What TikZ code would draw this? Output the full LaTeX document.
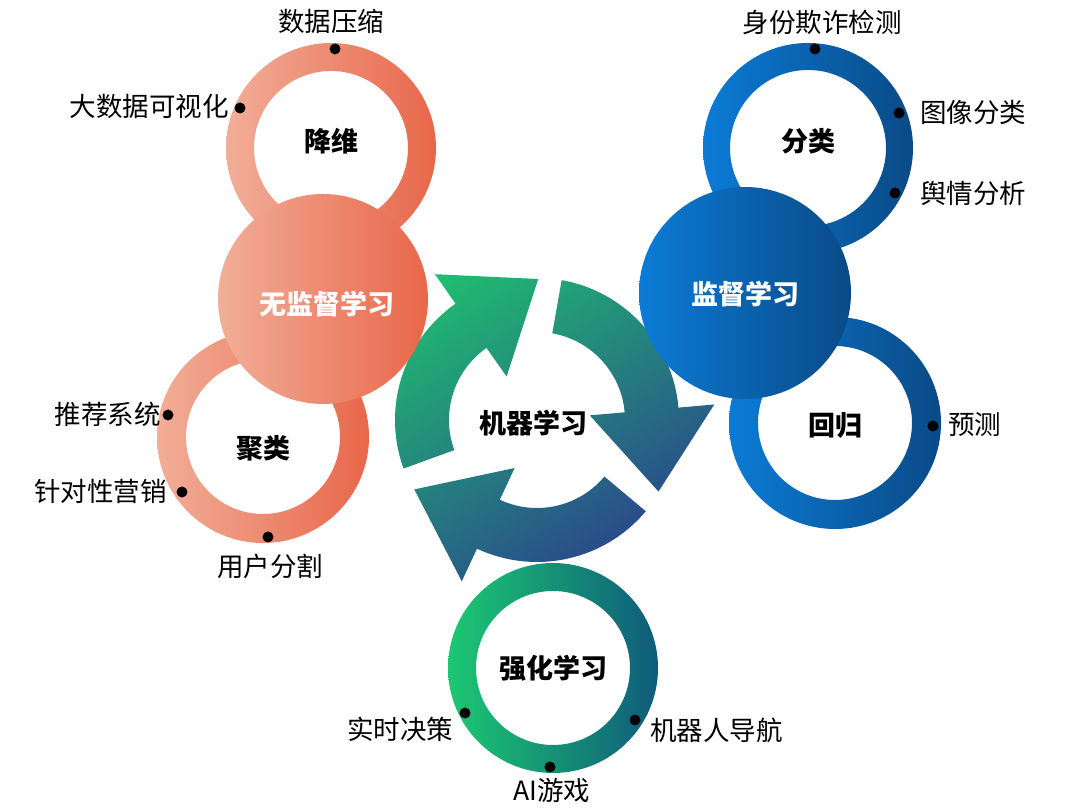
\documentclass[tikz,border=0pt]{standalone}
\usepackage{fontspec}
\newfontfamily\cjk{Noto Sans CJK SC}
\definecolor{orgL}{HTML}{F2AE98}
\definecolor{orgR}{HTML}{E8674A}
\definecolor{bluL}{HTML}{0B7BD6}
\definecolor{bluR}{HTML}{0A4A86}
\definecolor{grnL}{HTML}{1CC872}
\definecolor{grnR}{HTML}{0F5B7A}
\definecolor{cycG}{HTML}{1FC26E}
\definecolor{cycB}{HTML}{2B3C8E}
\begin{document}
\begin{tikzpicture}[
    x=1pt, y=1pt,
    ring/.style={even odd rule},
    orange/.style={left color=orgL, right color=orgR},
    blue/.style={left color=bluL, right color=bluR},
    green/.style={left color=grnL, right color=grnR},
    title/.style={font=\cjk\bfseries\fontsize{27}{30}\selectfont, inner sep=0pt},
    whitetitle/.style={title, text=white},
    lbl/.style={font=\cjk\fontsize{26.5}{30}\selectfont, inner sep=0pt},
    dot/.style={circle, fill=black, inner sep=0pt, minimum size=11pt},
]
  \useasboundingbox (0,0) rectangle (1080,810);

  % Centres
  \coordinate (jw) at (331,662);
  \coordinate (wjd) at (323,511);
  \coordinate (jl) at (263,373);
  \coordinate (fl) at (808,662);
  \coordinate (jd) at (745,517);
  \coordinate (hg) at (835,387);
  \coordinate (qh) at (553,142);

  % Cycle arrows
  \begin{scope}[shift={(537,390)}]
    \clip \foreach \r in {0,-120,-240} {
      (200+\r:142) arc[start angle=200+\r, end angle=125+\r, radius=142pt]
      -- (125+\r:178) -- (89.5+\r:141) -- (125+\r:53) -- (125+\r:88)
      arc[start angle=125+\r, end angle=200+\r, radius=88pt] -- cycle
    };
    \shade[top color=cycG, bottom color=cycB, shading angle=33]
      (-190,-190) rectangle (190,190);
  \end{scope}
  \node[title] (ml) at (533,387) {机器学习};

  % Unsupervised
  \shade[ring, orange] (jw) circle (105pt) (jw) circle (77pt);
  \shade[ring, orange] (jl) circle (106pt) (jl) circle (77pt);
  \shade[orange] (wjd) circle (105pt);
  \node[whitetitle] (wjdT) at (327,506) {无监督学习};
  \node[title] (jwT) at (331,669) {降维};
  \node[title] (jlT) at (263,362) {聚类};

  % Supervised
  \shade[ring, blue] (fl) circle (105pt) (fl) circle (78pt);
  \shade[ring, blue] (hg) circle (106pt) (hg) circle (77pt);
  \shade[blue] (jd) circle (106pt);
  \node[whitetitle] (jdT) at (745,516) {监督学习};
  \node[title] (flT) at (808,669) {分类};
  \node[title] (hgT) at (835,385) {回归};

  % Reinforcement
  \shade[ring, green] (qh) circle (105pt) (qh) circle (77pt);
  \node[title] (qhT) at (553,142) {强化学习};

  % Dots
  \node[dot] (d1) at (335,761) {};
  \node[dot] (d2) at (240,702) {};
  \node[dot] (d3) at (168,395) {};
  \node[dot] (d4) at (182,318) {};
  \node[dot] (d5) at (268,273) {};
  \node[dot] (d6) at (815,761) {};
  \node[dot] (d7) at (899,697) {};
  \node[dot] (d8) at (895,617) {};
  \node[dot] (d9) at (933,384) {};
  \node[dot] (d10) at (465,97) {};
  \node[dot] (d11) at (635,90) {};
  \node[dot] (d12) at (550,43) {};

  % Labels
  \node[lbl] (l1) at (331,789) {数据压缩};
  \node[lbl, anchor=east] (l2) at (229,704) {大数据可视化};
  \node[lbl, anchor=east] (l3) at (161,396) {推荐系统};
  \node[lbl, anchor=east] (l4) at (167,319) {针对性营销};
  \node[lbl] (l5) at (270,244) {用户分割};
  \node[lbl] (l6) at (822,788) {身份欺诈检测};
  \node[lbl, anchor=west] (l7) at (920,698) {图像分类};
  \node[lbl, anchor=west] (l8) at (920,617) {舆情分析};
  \node[lbl, anchor=west] (l9) at (948,385) {预测};
  \node[lbl] (l10) at (400,81) {实时决策};
  \node[lbl, anchor=west] (l11) at (650,80) {机器人导航};
  \node[lbl] (l12) at (552,20) {AI游戏};

\end{tikzpicture}
\end{document}
